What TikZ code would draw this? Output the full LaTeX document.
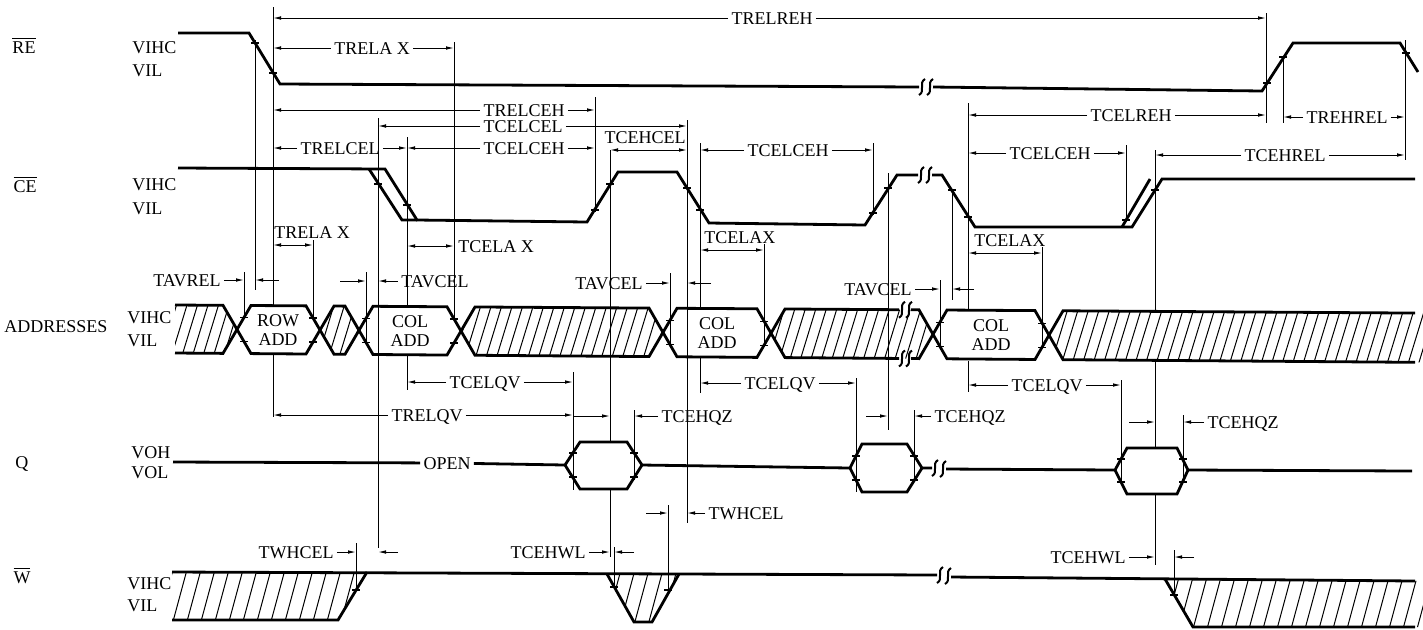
\documentclass[tikz,border=0pt]{standalone}
\usepackage{fontspec}
\setmainfont{Liberation Serif}
\usepackage{tikz}
\usetikzlibrary{arrows.meta}
\tikzset{l/.style={font=\fontsize{9}{9}\selectfont, inner sep=1.5pt, text height=6pt, text depth=0pt}}
\tikzset{blk/.style={font=\fontsize{9}{9.5}\selectfont, align=center, inner sep=0pt}}
\tikzset{sig/.style={line width=1.4pt}}
\tikzset{dim/.style={line width=0.5pt}}
\tikzset{hatch/.style={line width=0.5pt}}
\tikzset{tick/.style={line width=0.6pt}}
\tikzset{brk/.style={line width=1pt}}
% address bus edges (top, bottom, middle)
\tikzset{declare function={bt(\u)=305+0.0065*(\u-175); bb(\u)=353+0.0075*(\u-175); bm(\u)=0.5*(bt(\u)+bb(\u));}}

\newcommand{\busblock}[2]{%
  \draw[sig] (#1,{bm(#1)}) -- ({#1+14},{bt(#1+14)}) -- ({#2-14},{bt(#2-14)})
    -- (#2,{bm(#2)}) -- ({#2-14},{bb(#2-14)}) -- ({#1+14},{bb(#1+14)}) -- cycle;}
\newcommand{\sigbreak}[2]{%
  \draw[brk] ({#1-3},{#2+8}) .. controls ({#1+4},{#2+4}) and ({#1-4},{#2-4}) .. ({#1+3},{#2-8});}

\begin{document}
\begin{tikzpicture}[x=0.5pt, y=-0.5pt, >={Latex[length=4pt,width=1.8pt]}]
  \useasboundingbox (0,0) rectangle (1423,629);

  % time marks
  \foreach \nm/\x in {reA/255, reB/273, reC/1266, reD/1283, reE/1405,
      ceA/378, ceB/407, ceC/595, ceD/610, ceE/687, ceF/700, ceG/873, ceH/888,
      ceI/952, ceJ/968, ceK/1126, ceL/1155,
      adA/244, adB/313, adC/366, adD/454, adE/670, adF/764, adG/940, adH/1042,
      qA/573, qB/634, qC/856, qD/914, qE/1121, qF/1183,
      wA/356, wB/614, wC/668, wD/1174}
    \coordinate (\nm) at (\x,0);

  % signal names
  \node[l] (re) at (24,47) {$\overline{\mbox{RE}}$};
  \node[l, right] (reHi) at (129,47) {VIHC};
  \node[l, right] (reLo) at (129,70) {VIL};
  \node[l] (ce) at (25,186) {$\overline{\mbox{CE}}$};
  \node[l, right] (ceHi) at (129,184) {VIHC};
  \node[l, right] (ceLo) at (129,208) {VIL};
  \node[l] (addr) at (56,326) {ADDRESSES};
  \node[l, right] (adHi) at (124,317) {VIHC};
  \node[l, right] (adLo) at (124,340) {VIL};
  \node[l] (q) at (22,462) {Q};
  \node[l, right] (qHi) at (128,452) {VOH};
  \node[l, right] (qLo) at (128,472) {VOL};
  \node[l] (w) at (22,577) {$\overline{\mbox{W}}$};
  \node[l, right] (wHi) at (124,583) {VIHC};
  \node[l, right] (wLo) at (124,605) {VIL};

  % RE
  \draw[sig] (178,33) -- (249,33) -- (280,84) -- (919,87);
  \sigbreak{922}{87} \sigbreak{930}{87}
  \draw[sig] (933,87) -- (1262,91) -- (1293,43) -- (1400,43) -- (1418,72);

  % CE
  \draw[sig] (178,168) -- (385,169) -- (417,220) -- (587,222) -- (618,172) -- (677,172)
    -- (709,223) -- (865,225) -- (897,175) -- (918,175);
  \draw[sig] (369,169) -- (402,220) -- (417,220);
  \sigbreak{921}{175} \sigbreak{929}{175}
  \draw[sig] (932,175) -- (942,175) -- (975,227) -- (1132,227) -- (1162,179) -- (1415,179);
  \draw[sig] (1122,227) -- (1150,179);

  % addresses
  \begin{scope}
    \clip (175,{bt(175)}) -- (223,{bt(223)}) -- (237,{bm(237)}) -- (223,{bb(223)}) -- (175,{bb(175)}) -- cycle
      (320,{bm(320)}) -- (334,{bt(334)}) -- (345,{bt(345)}) -- (359,{bm(359)}) -- (345,{bb(345)}) -- (334,{bb(334)}) -- cycle
      (461,{bm(461)}) -- (475,{bt(475)}) -- (649,{bt(649)}) -- (663,{bm(663)}) -- (649,{bb(649)}) -- (475,{bb(475)}) -- cycle
      (771,{bm(771)}) -- (785,{bt(785)}) -- (919,{bt(919)}) -- (933,{bm(933)}) -- (919,{bb(919)}) -- (785,{bb(785)}) -- cycle
      (1049,{bm(1049)}) -- (1063,{bt(1063)}) -- (1423,{bt(1423)}) -- (1423,{bb(1423)}) -- (1063,{bb(1063)}) -- cycle;
    \foreach \k in {0,...,125}
      \draw[hatch] ({140+10.5*\k},390) -- ++(30.6,-100);
  \end{scope}
  \draw[sig] (175,{bt(175)}) -- (223,{bt(223)}) -- (237,{bm(237)}) -- (223,{bb(223)}) -- (175,{bb(175)});
  \busblock{237}{320}
  \busblock{320}{359}
  \busblock{359}{461}
  \busblock{461}{663}
  \busblock{663}{771}
  \draw[sig] (899,{bt(899)}) -- (785,{bt(785)}) -- (771,{bm(771)}) -- (785,{bb(785)}) -- (899,{bb(899)});
  \draw[sig] (911,{bt(911)}) -- (919,{bt(919)}) -- (933,{bm(933)}) -- (919,{bb(919)}) -- (911,{bb(911)});
  \sigbreak{902}{bt(902)} \sigbreak{909}{bt(909)}
  \sigbreak{902}{bb(902)} \sigbreak{909}{bb(909)}
  \busblock{933}{1049}
  \draw[sig] (1415,{bt(1415)}) -- (1063,{bt(1063)}) -- (1049,{bm(1049)}) -- (1063,{bb(1063)}) -- (1415,{bb(1415)});
  \node[blk] (rowadd) at (278,330) {ROW\\ADD};
  \node[blk] (coladdA) at (410,331) {COL\\ADD};
  \node[blk] (coladdB) at (717,333) {COL\\ADD};
  \node[blk] (coladdC) at (991,335) {COL\\ADD};

  % Q
  \node[l] (open) at (447,463) {OPEN};
  \draw[sig] (173,462) -- (open);
  \draw[sig] (open) -- (565,465) -- (580,442) -- (627,442) -- (642,465) -- (850,468)
    -- (862,444) -- (907,444) -- (922,468) -- (932,468);
  \draw[sig] (565,465) -- (580,489) -- (627,489) -- (642,465);
  \draw[sig] (850,468) -- (862,492) -- (907,492) -- (922,468);
  \sigbreak{935}{468} \sigbreak{943}{469}
  \draw[sig] (946,469) -- (1115,470) -- (1127,448) -- (1177,448) -- (1188,470) -- (1412,471);
  \draw[sig] (1115,470) -- (1127,494) -- (1177,494) -- (1188,470);

  % W
  \begin{scope}
    \clip (172,572) -- (367,572) -- (338,620) -- (172,620) -- cycle
      (607,574) -- (679,574) -- (652,622) -- (634,622) -- cycle
      (1165,579) -- (1423,581) -- (1423,627) -- (1193,627) -- cycle;
    \foreach \k in {0,...,95}
      \draw[hatch] ({140+14*\k},640) -- ++(27,-100);
  \end{scope}
  \draw[sig] (172,572) -- (937,575);
  \sigbreak{940}{575} \sigbreak{948}{576}
  \draw[sig] (951,577) -- (1415,581);
  \draw[sig] (367,572) -- (338,620) -- (172,620);
  \draw[sig] (607,574) -- (634,622) -- (652,622) -- (679,574);
  \draw[sig] (1165,579) -- (1193,627) -- (1415,627);

  % crossing ticks
  \foreach \x/\y in {255/43, 273/73, 1267/83, 1283/57, 1406/53,
      378/184, 407/205, 595/210, 610/184, 687/188, 700/210, 873/213, 888/188,
      952/190, 968/217, 1126/220, 1155/190,
      573/453, 573/477, 634/453, 634/477, 856/456, 856/480, 914/456, 914/480,
      1121/459, 1121/482, 1183/459, 1183/482,
      356/590, 614/587, 668/590, 1174/595}
    \draw[tick] (\x-4,\y) -- (\x+4,\y);
  \foreach \c/\s in {237/1, 320/-1, 359/1, 461/-1, 663/1, 771/-1, 933/1, 1049/-1}
  {
    \draw[tick] ({\c+7*\s-4},{bm(\c)-12}) -- ++(8,0);
    \draw[tick] ({\c+7*\s-4},{bm(\c)+12}) -- ++(8,0);
  }

  % extension lines
  \foreach \nm/\ya/\yb in {reA/40/290, reB/7/305, reB/354/417, reC/13/123, reD/57/123, reE/40/160,
      ceA/118/548, ceB/137/307, ceB/356/390, ceC/97/212, ceD/150/442, ceD/489/557,
      ceE/120/523, ceF/143/308, ceF/357/393, ceG/143/215, ceH/173/430, ceI/190/300,
      ceJ/103/311, ceJ/361/392, ceK/145/222, ceL/150/311, ceL/361/448, ceL/494/565,
      adA/272/317, adB/240/318, adC/272/342, adD/42/319, adE/273/345, adF/244/345,
      adG/280/346, adH/247/347,
      qA/372/490, qB/410/480, qC/378/492, qD/410/482, qE/380/484, qF/415/482,
      wA/543/590, wB/547/587, wC/505/590, wD/550/595}
    \draw[dim] (\nm |- 0,\ya) -- (\nm |- 0,\yb);

  % timing parameters, label inside the line
  \foreach \nm/\txt/\x/\y/\ma/\mb in {
      trelreh/TRELREH/772/18/reB/reC,
      trelaxA/TRELA X/372/48/reB/adD,
      trelceh/TRELCEH/524/110/reB/ceC,
      tcelcel/TCELCEL/523/126/ceA/ceE,
      trelcel/TRELCEL/340/148/reB/ceB,
      tcelcehA/TCELCEH/524/148/ceB/ceC,
      tcelcehB/TCELCEH/788/150/ceF/ceG,
      tcelreh/TCELREH/1131/115/ceJ/reC,
      trehrel/TREHREL/1347/117/reD/reE,
      tcelcehC/TCELCEH/1050/153/ceJ/ceK,
      tcehrel/TCEHREL/1285/155/ceL/reE,
      tcelqvA/TCELQV/485/382/ceB/qA,
      trelqv/TRELQV/427/415/reB/qA,
      tcelqvB/TCELQV/780/383/ceF/qC,
      tcelqvC/TCELQV/1047/385/ceJ/qE}
  {
    \node[l] (\nm) at (\x,\y) {\txt};
    \draw[dim,->] (\nm) -- (\nm -| \ma);
    \draw[dim,->] (\nm) -- (\nm -| \mb);
  }

  % timing parameters, label above the line
  \foreach \nm/\txt/\x/\y/\ma/\mb in {
      trelaxB/TRELA X/271/245/reB/adB,
      tcelaxB/TCELAX/701/250/ceF/adF,
      tcelaxC/TCELAX/971/253/ceJ/adH}
  {
    \node[l, above right, inner ysep=3pt] (\nm) at (\x,\y) {\txt};
    \draw[dim,<->] (\nm.south west -| \ma) -- (\nm.south west -| \mb);
  }
  \node[l, above, inner ysep=3pt] (tcehcel) at (645,150) {TCEHCEL};
  \draw[dim,<->] (tcehcel.south -| ceD) -- (tcehcel.south -| ceE);
  \node[l, right] (tcelaxA) at (455,246) {TCELA X};
  \draw[dim,<->] (tcelaxA.west -| ceB) -- (tcelaxA.west -| adD);

  % timing parameters, arrows from outside
  \foreach \nm/\txt/\x/\y/\ma/\mb/\s in {
      tavrel/TAVREL/187/280/adA/reA/12,
      tavcelA/TAVCEL/435/281/ceA/adC/-13,
      tavcelB/TAVCEL/609/283/adE/ceE/12,
      tavcelC/TAVCEL/878/289/adG/ceI/11,
      tcehqzA/TCEHQZ/697/416/qB/ceD/-18,
      tcehqzB/TCEHQZ/970/416/qD/ceH/-11,
      tcehqzC/TCEHQZ/1243/422/qF/ceL/-13,
      twhcelA/TWHCEL/296/552/wA/ceA/10,
      tcehwlA/TCEHWL/548/552/ceD/wB/10,
      twhcelB/TWHCEL/746/513/ceE/wC/-11,
      tcehwlC/TCEHWL/1088/557/ceL/wD/10}
  {
    \node[l] (\nm) at (\x,\y) {\txt};
    \draw[dim,->] (\nm) -- (\nm -| \ma);
    \draw[dim,->] ([xshift=\s pt]\nm -| \mb) -- (\nm -| \mb);
  }
\end{tikzpicture}
\end{document}
